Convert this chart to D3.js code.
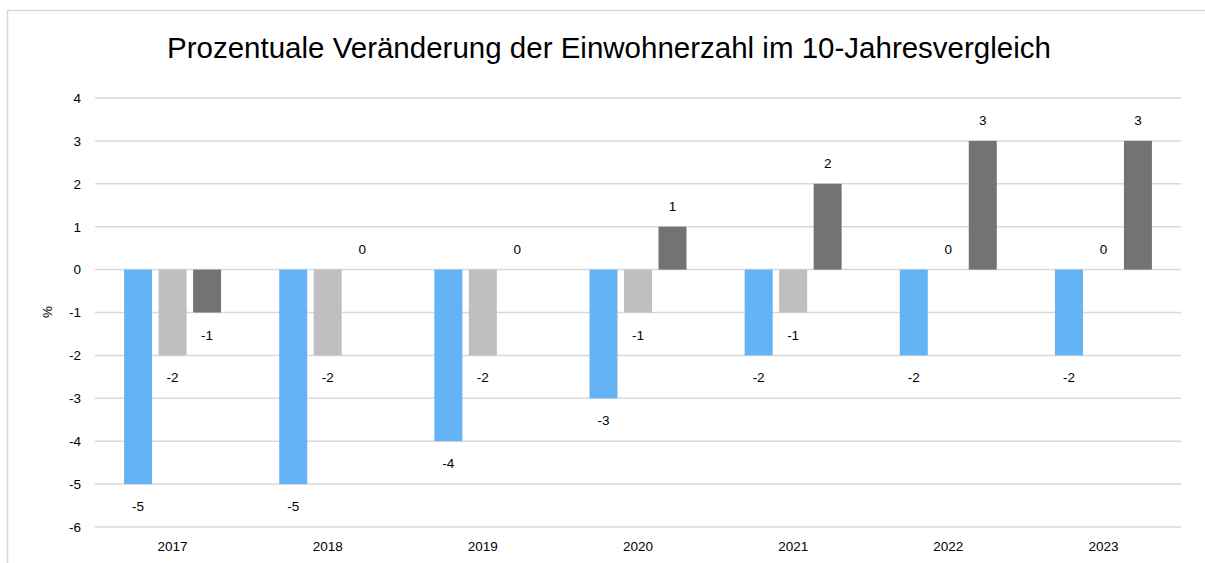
<!DOCTYPE html>
<html><head><meta charset="utf-8">
<script src="https://cdn.jsdelivr.net/npm/d3@7"></script>
<style>body{margin:0;background:#fff;font-family:"Liberation Sans",Arial,sans-serif;}</style>
</head><body><svg id="c" width="1205" height="563"></svg>
<script>
const categories = ["2017","2018","2019","2020","2021","2022","2023"];
const seriesA = [-5,-5,-4,-3,-2,-2,-2];
const seriesB = [-2,-2,-2,-1,-1,0,0];
const seriesC = [-1,0,0,1,2,3,3];
const yTicks = [-6,-5,-4,-3,-2,-1,0,1,2,3,4];
const colors = ["#63b3f5","#bfbfbf","#737373"];
const series = [seriesA, seriesB, seriesC];

const svg = d3.select("#c");
svg.append("rect").attr("x",7.5).attr("y",10.5).attr("width",1205).attr("height",600)
  .attr("fill","#fff").attr("stroke","#d9d9d9").attr("stroke-width",1.5);

const x0 = 95, x1 = 1181;
const y = d3.scaleLinear().domain([-6,4]).range([527,98]);
const x = d3.scaleBand().domain(categories).range([x0,x1]).paddingInner(0).paddingOuter(0);
const barW = 28, gap = 6.5;

svg.append("text").attr("x",609).attr("y",58).attr("text-anchor","middle")
  .attr("font-size",29.5).attr("fill","#000").text("Prozentuale Veränderung der Einwohnerzahl im 10-Jahresvergleich");

const g = svg.append("g");
g.selectAll("line.grid").data(yTicks).join("line")
  .attr("x1",x0).attr("x2",x1).attr("y1",d=>y(d)).attr("y2",d=>y(d))
  .attr("stroke","#d9d9d9").attr("stroke-width",1.5);

const yAxis = d3.axisLeft(y).tickValues(yTicks).tickSize(0).tickPadding(14).tickFormat(d=>String(d));
const ya = svg.append("g").attr("transform",`translate(${x0},0)`).call(yAxis);
ya.select(".domain").remove();
ya.selectAll("text").attr("font-size",13.5).attr("fill","#000").attr("font-family","Liberation Sans, Arial, sans-serif");

const xAxis = d3.axisBottom(x).tickSize(0).tickPadding(14);
const xa = svg.append("g").attr("transform",`translate(0,${y(-6)})`).call(xAxis);
xa.select(".domain").remove();
xa.selectAll("text").attr("font-size",13.5).attr("fill","#000").attr("font-family","Liberation Sans, Arial, sans-serif");

svg.append("text").attr("transform","translate(52,312) rotate(-90)").attr("text-anchor","middle")
  .attr("font-size",13.5).attr("fill","#000").text("%");

series.forEach((vals,si)=>{
  const off = (si-1)*(barW+gap) - barW/2;
  const bars = svg.append("g");
  bars.selectAll("rect").data(vals).join("rect")
    .attr("x",(d,i)=>x(categories[i])+x.bandwidth()/2+off)
    .attr("width",barW)
    .attr("y",d=>Math.min(y(d),y(0)))
    .attr("height",d=>Math.abs(y(d)-y(0)))
    .attr("fill",colors[si]);
  bars.selectAll("text").data(vals).join("text")
    .attr("x",(d,i)=>x(categories[i])+x.bandwidth()/2+off+barW/2)
    .attr("y",d=> d<0 ? y(d)+27 : y(d)-16)
    .attr("text-anchor","middle").attr("font-size",13.5).attr("fill","#000")
    .text(d=>String(d));
});
</script></body></html>
